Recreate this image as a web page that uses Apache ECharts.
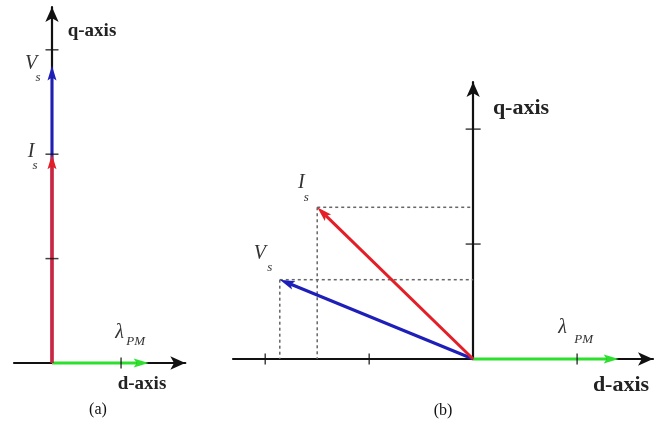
<!DOCTYPE html>
<html>
<head>
<meta charset="utf-8">
<script src="https://cdn.jsdelivr.net/npm/echarts@6/dist/echarts.min.js"></script>
<style>
  html, body { margin: 0; padding: 0; background: #fff; }
  #chart { width: 670px; height: 432px; }
</style>
</head>
<body>
<div id="chart"></div>
<script>
// Phasor components (d, q)
const lambdaPM = 1.4;
// (a) current and voltage along the q-axis
const lamA = [lambdaPM, 0];
const vsA = [0, 2.85];
const isA = [0, 2.0];
// (b) current and voltage rotated into the second quadrant
const lamB = [lambdaPM, 0];
const vsB = [-1.86, 0.69];
const isB = [-1.5, 1.32];

// Tick positions on each axis
const qTicksA = [1, 2, 3];
const dTicksA = [1];
const qTicksB = [1, 2];
const dTicksB = [-2, -1, 1];

// Axis extents (the far end carries the arrow tip)
const dRangeA = [-0.55, 1.93];
const qRangeA = [0, 3.41];
const dRangeB = [-2.31, 1.73];
const qRangeB = [0, 2.41];

// Text
const axisNames = ['q-axis', 'd-axis'];
const captions = ['(a)', '(b)'];
const vecLabels = { lam: ['λ', 'PM'], vs: ['V', 's'], is: ['I', 's'] };

// Colours
const RED = '#e41e26', BLUE = '#1e1eb9', GREEN = '#2ee02e', INK = '#111', DASH = '#666';

// Label placement (pixel offsets from a vector's tip)
const labelOffsets = {
  lamA: { main: [-29, -30], sub: [-13, -21] },
  vsA:  { main: [-21, -2],  sub: [-14, 12] },
  isA:  { main: [-21, -2],  sub: [-17, 11] },
  lamB: { main: [-56, -31], sub: [-35, -19] },
  vsB:  { main: [-20, -26], sub: [-10, -12] },
  isB:  { main: [-16, -25], sub: [-11, -10] }
};

const SERIF = '"Liberation Serif", "DejaVu Serif", serif';

function vectorSeries(grid, tip, color, text, offs, z) {
  return {
    type: 'custom',
    xAxisIndex: grid, yAxisIndex: grid,
    z: z, silent: true,
    data: [[0, 0, tip[0], tip[1]]],
    renderItem(params, api) {
      const p0 = api.coord([api.value(0), api.value(1)]);
      const p1 = api.coord([api.value(2), api.value(3)]);
      const dx = p1[0] - p0[0], dy = p1[1] - p0[1];
      const len = Math.hypot(dx, dy);
      const ux = dx / len, uy = dy / len, nx = -uy, ny = ux;
      const L = 15, W = 4.5, notch = 12;
      const base = [p1[0] - ux * L, p1[1] - uy * L];
      const nb = [p1[0] - ux * notch, p1[1] - uy * notch];
      return {
        type: 'group',
        children: [
          { type: 'line', shape: { x1: p0[0], y1: p0[1], x2: nb[0], y2: nb[1] },
            style: { stroke: color, lineWidth: 3 } },
          { type: 'polygon',
            shape: { points: [p1, [base[0] + nx * W, base[1] + ny * W], nb, [base[0] - nx * W, base[1] - ny * W]] },
            style: { fill: color } },
          { type: 'text', x: p1[0] + offs.main[0], y: p1[1] + offs.main[1],
            style: { text: text[0], fill: '#333', font: 'italic 20px ' + SERIF, align: 'center', verticalAlign: 'middle' } },
          { type: 'text', x: p1[0] + offs.sub[0], y: p1[1] + offs.sub[1],
            style: { text: text[1], fill: '#333', font: 'italic 13px ' + SERIF, align: 'center', verticalAlign: 'middle' } }
        ]
      };
    }
  };
}

// Dotted projections of each tip onto the d and q axes
function projectionSeries(grid, tips) {
  return {
    type: 'custom',
    xAxisIndex: grid, yAxisIndex: grid,
    z: 1, silent: true,
    data: tips,
    renderItem(params, api) {
      const t = api.coord([api.value(0), api.value(1)]);
      const qx = api.coord([0, api.value(1)]);
      const dy = api.coord([api.value(0), 0]);
      const st = { stroke: DASH, lineWidth: 1.5, lineDash: [3, 3] };
      return {
        type: 'group',
        children: [
          { type: 'line', shape: { x1: t[0], y1: t[1], x2: qx[0], y2: qx[1] }, style: st },
          { type: 'line', shape: { x1: t[0], y1: t[1], x2: dy[0], y2: dy[1] }, style: st }
        ]
      };
    }
  };
}

function tickSeries(grid, points, size) {
  return {
    type: 'scatter',
    xAxisIndex: grid, yAxisIndex: grid,
    z: 10, silent: true,
    symbol: 'rect', symbolSize: size,
    itemStyle: { color: INK },
    data: points
  };
}

function axisBase(range) {
  return {
    type: 'value',
    min: range[0], max: range[1],
    axisLine: {
      onZero: true,
      symbol: ['none', 'arrow'],
      symbolSize: [10, 15],
      lineStyle: { color: INK, width: 2.2 }
    },
    axisTick: { show: false },
    axisLabel: { show: false },
    splitLine: { show: false }
  };
}

const chart = echarts.init(document.getElementById('chart'), null, { renderer: 'canvas' });

chart.setOption({
  backgroundColor: '#fff',
  animation: false,
  grid: [
    { left: 14, top: 7, width: 171.3, height: 356 },
    { left: 233, top: 82, width: 420, height: 277 }
  ],
  xAxis: [
    Object.assign(axisBase(dRangeA), { gridIndex: 0 }),
    Object.assign(axisBase(dRangeB), { gridIndex: 1 })
  ],
  yAxis: [
    Object.assign(axisBase(qRangeA), { gridIndex: 0 }),
    Object.assign(axisBase(qRangeB), { gridIndex: 1 })
  ],
  series: [
    projectionSeries(1, [isB, vsB]),
    vectorSeries(0, lamA, GREEN, vecLabels.lam, labelOffsets.lamA, 3),
    vectorSeries(0, vsA, BLUE, vecLabels.vs, labelOffsets.vsA, 4),
    vectorSeries(0, isA, RED, vecLabels.is, labelOffsets.isA, 5),
    vectorSeries(1, lamB, GREEN, vecLabels.lam, labelOffsets.lamB, 3),
    vectorSeries(1, vsB, BLUE, vecLabels.vs, labelOffsets.vsB, 4),
    vectorSeries(1, isB, RED, vecLabels.is, labelOffsets.isB, 5),
    tickSeries(0, qTicksA.map(v => [0, v]), [13, 1.5]),
    tickSeries(0, dTicksA.map(v => [v, 0]), [1.5, 11]),
    tickSeries(1, qTicksB.map(v => [0, v]), [15, 1.5]),
    tickSeries(1, dTicksB.map(v => [v, 0]), [1.5, 11])
  ],
  graphic: [
    { type: 'text', x: 92, y: 31, style: { text: axisNames[0], font: 'bold 19px ' + SERIF, fill: '#222', align: 'center', verticalAlign: 'middle' } },
    { type: 'text', x: 142, y: 384, style: { text: axisNames[1], font: 'bold 19px ' + SERIF, fill: '#222', align: 'center', verticalAlign: 'middle' } },
    { type: 'text', x: 521, y: 108, style: { text: axisNames[0], font: 'bold 22px ' + SERIF, fill: '#222', align: 'center', verticalAlign: 'middle' } },
    { type: 'text', x: 621, y: 385, style: { text: axisNames[1], font: 'bold 22px ' + SERIF, fill: '#222', align: 'center', verticalAlign: 'middle' } },
    { type: 'text', x: 98, y: 410, style: { text: captions[0], font: '16px ' + SERIF, fill: '#111', align: 'center', verticalAlign: 'middle' } },
    { type: 'text', x: 443, y: 411, style: { text: captions[1], font: '16px ' + SERIF, fill: '#111', align: 'center', verticalAlign: 'middle' } }
  ]
});
</script>
</body>
</html>
